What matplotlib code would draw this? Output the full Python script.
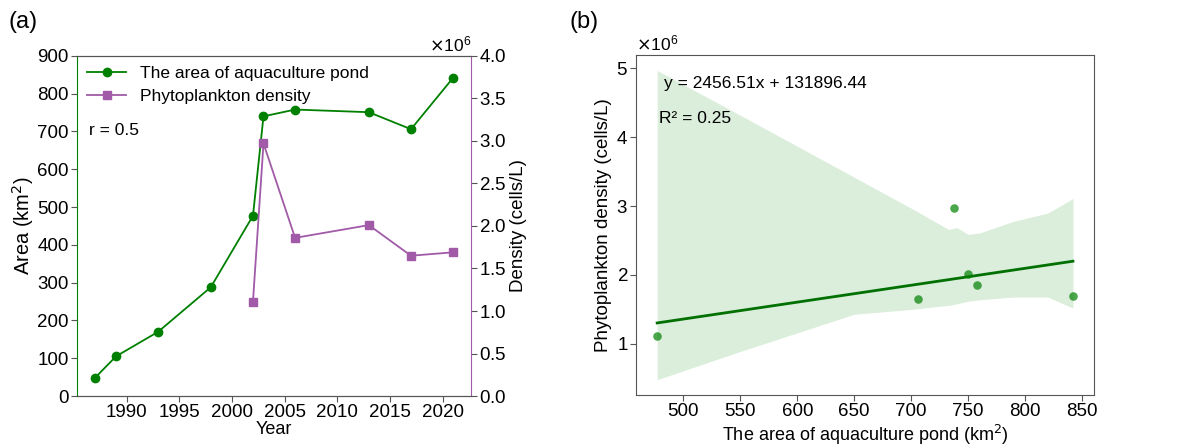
import numpy as np
import matplotlib
matplotlib.use('Agg')
import matplotlib.pyplot as plt

plt.rcParams['font.family'] = ['Liberation Sans', 'DejaVu Sans']
plt.rcParams['font.size'] = 12.5
plt.rcParams['xtick.labelsize'] = 13.5
plt.rcParams['ytick.labelsize'] = 13.5
plt.rcParams['axes.labelsize'] = 13.5

# --- data ---
area_years = [1987, 1989, 1993, 1998, 2002, 2003, 2006, 2013, 2017, 2021]
area_km2 = [48, 105, 170, 288, 477, 740, 758, 751, 706, 842]
dens_years = [2002, 2003, 2006, 2013, 2017, 2021]
density = [1.11e6, 2.97e6, 1.86e6, 2.01e6, 1.65e6, 1.69e6]

# scatter pairs (area vs density) for panel b
pair_area = [477, 706, 738, 750, 758, 842]
pair_dens = [1.11e6, 1.65e6, 2.97e6, 2.01e6, 1.86e6, 1.69e6]
slope, intercept = 2456.51, 131896.44

# confidence band edges
band_x = [477, 550, 600, 650, 700, 733, 740, 750, 760, 790, 820, 842]
band_hi = [4.97e6, 4.32e6, 3.87e6, 3.42e6, 2.97e6, 2.66e6, 2.69e6, 2.59e6, 2.61e6, 2.78e6, 2.90e6, 3.11e6]
band_lo = [0.48e6, 0.89e6, 1.16e6, 1.43e6, 1.50e6, 1.56e6, 1.58e6, 1.62e6, 1.64e6, 1.68e6, 1.68e6, 1.52e6]

GREEN = '#008000'
PURPLE = '#a05aa8'
GRAY = '#555555'

fig = plt.figure(figsize=(11.85, 4.47), dpi=100)

# ---------- (a) ----------
ax1 = fig.add_axes([0.065, 0.114, 0.3325, 0.761])
l1, = ax1.plot(area_years, area_km2, color=GREEN, marker='o', ms=6, lw=1.3,
               label='The area of aquaculture pond')
ax1.set_ylim(0, 900)
ax1.set_yticks(range(0, 901, 100))
ax1.set_xticks(range(1990, 2021, 5))
ax1.set_xlabel('Year', labelpad=0, fontsize=13)
ax1.set_ylabel('Area (km$^2$)', labelpad=1, fontsize=14.5)
ax1.text(0.03, 0.78, 'r = 0.5', transform=ax1.transAxes, va='center', ha='left')

ax2 = ax1.twinx()
l2, = ax2.plot(dens_years, density, color=PURPLE, marker='s', ms=6, lw=1.3,
               label='Phytoplankton density')
ax2.set_ylim(0, 4e6)
ax2.set_yticks(np.arange(0, 4.01e6, 0.5e6))
ax2.set_ylabel('Density (cells/L)', labelpad=2)
ax2.ticklabel_format(axis='y', style='sci', scilimits=(6, 6), useMathText=True)
ax2.yaxis.get_offset_text().set_fontsize(12.5)

for a in (ax1, ax2):
    a.spines['top'].set_color(GRAY)
    a.spines['bottom'].set_color(GRAY)
ax1.spines['left'].set_color(GREEN)
ax1.spines['right'].set_visible(False)
ax2.spines['left'].set_visible(False)
ax2.spines['right'].set_color(PURPLE)
ax1.tick_params(length=4, color=GRAY, pad=2)
ax2.tick_params(length=4, color=GRAY, pad=2)

ax1.legend(handles=[l1, l2], loc='upper left', frameon=False,
           borderaxespad=0.2, handlelength=2.2, labelspacing=0.45,
           bbox_to_anchor=(0.0, 1.0))

fig.text(0.007, 0.95, '(a)', fontsize=17, va='center')

# ---------- (b) ----------
ax3 = fig.add_axes([0.537, 0.116, 0.386, 0.761])
ax3.fill_between(band_x, band_lo, band_hi, color=GREEN, alpha=0.14, lw=0)
fit_x = np.array([pair_area[0], pair_area[-1]])
ax3.plot(fit_x, slope * fit_x + intercept, color='#007000', lw=2)
ax3.scatter(pair_area, pair_dens, color=GREEN, alpha=0.7, s=38, zorder=3, lw=0)
ax3.set_xticks(range(500, 851, 50))
ax3.set_yticks([1e6, 2e6, 3e6, 4e6, 5e6])
ax3.ticklabel_format(axis='y', style='sci', scilimits=(6, 6), useMathText=True)
ax3.yaxis.get_offset_text().set_fontsize(12.5)
ax3.set_xlabel('The area of aquaculture pond (km$^2$)', labelpad=2, fontsize=13)
ax3.set_ylabel('Phytoplankton density (cells/L)', labelpad=3)
for s in ax3.spines.values():
    s.set_color(GRAY)
ax3.tick_params(length=4, color=GRAY, pad=2)
ax3.text(0.06, 0.915, 'y = 2456.51x + 131896.44', transform=ax3.transAxes,
         va='center', ha='left')
ax3.text(0.05, 0.812, 'R\u00b2 = 0.25', transform=ax3.transAxes,
         va='center', ha='left')

fig.text(0.481, 0.95, '(b)', fontsize=17, va='center')

fig.savefig('out.png', dpi=100)
